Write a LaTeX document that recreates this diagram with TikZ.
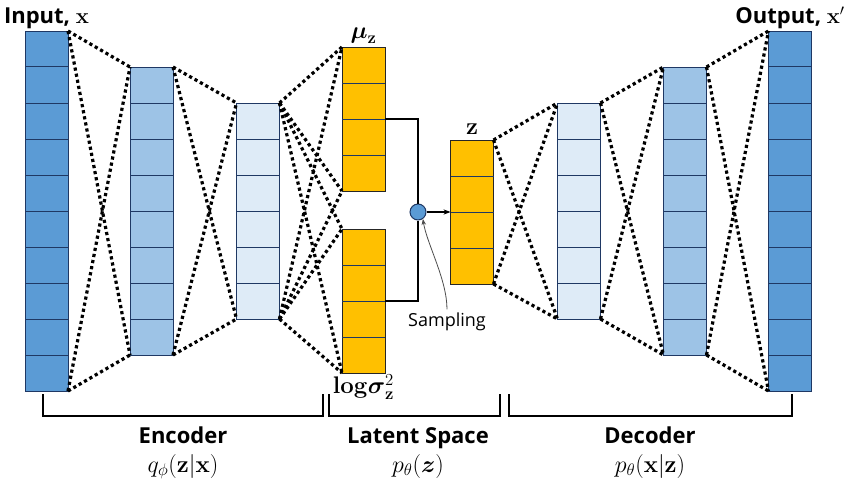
\documentclass[tikz,border=0pt]{standalone}
\usepackage{fix-cm}
\usepackage[no-math]{fontspec}
\setmainfont{Open Sans}
\usepackage{amsmath,amssymb}
\usetikzlibrary{arrows.meta, positioning, calc}
\definecolor{deepblue}{HTML}{5B9BD5}
\definecolor{midblue}{HTML}{9DC3E6}
\definecolor{paleblue}{HTML}{DEEBF7}
\definecolor{gold}{HTML}{FFC000}
\definecolor{navy}{HTML}{1F3864}

\begin{document}
\begin{tikzpicture}[
    x=1pt, y=-1pt,
    layer/.style={rectangle, draw=navy, fill=#1, line width=1pt,
                  inner sep=0pt, outer sep=0pt, minimum width=43pt},
    latent/.style={layer=gold, draw=black!85},
    link/.style={line width=3.2pt, dash pattern=on 3.2pt off 3pt},
    wire/.style={line width=1.6pt},
    title/.style={font=\fontsize{22}{26}\selectfont\bfseries, inner sep=0pt},
    formula/.style={font=\fontsize{24}{28}\selectfont, inner sep=0pt},
    brace/.style={line width=1.5pt}
]
\path[fill=white, use as bounding box] (0,0) rectangle (850,485);

% Layers
\node[layer=deepblue, minimum height=360pt] (in) at (46.5,211) {};
\node[layer=midblue, minimum height=288pt] (e1) at (151.5,211) {};
\node[layer=paleblue, minimum height=216pt] (e2) at (258,211) {};
\node[latent, minimum height=144pt] (mu) at (363.5,119) {};
\node[latent, minimum height=144pt] (ls) at (363.5,301) {};
\node[circle, draw=navy, fill=deepblue, line width=1pt, minimum size=16pt,
      inner sep=0pt] (s) at (418,212) {};
\node[latent, minimum height=144pt] (z) at (472,212) {};
\node[layer=paleblue, minimum height=216pt] (d1) at (579,211) {};
\node[layer=midblue, minimum height=288pt] (d2) at (685,211) {};
\node[layer=deepblue, minimum height=360pt] (out) at (790,211) {};

% Cells
\foreach \n/\k in {in/10,e1/8,e2/6,mu/4,ls/4,z/4,d1/6,d2/8,out/10}
  \foreach \i in {2,...,\k}
    \draw[line width=1pt, draw=navy]
      ($(\n.north west)!{(\i-1)/\k}!(\n.south west)$) --
      ($(\n.north east)!{(\i-1)/\k}!(\n.south east)$);

% Dotted links
\foreach \a/\b in {in/e1,e1/e2,z/d1,d1/d2,d2/out}
  \foreach \p in {north east,south east}
    \foreach \q in {north west,south west}
      \draw[link] (\a.\p) -- (\b.\q);
\foreach \p in {north east,south east}
  \foreach \b in {mu,ls}
    \foreach \q in {north west,south west}
      \draw[link] (e2.\p) -- (\b.\q);

% Sampling
\draw[wire] (mu.east) -| (s.north);
\draw[wire] (ls.east) -| (s.south);
\draw[wire, -{Stealth[length=7pt]}] (s.east) -- (z.west);
\node[font=\fontsize{18}{20}\selectfont] (samp) at (447,322) {Sampling};
\draw[black!70, line width=0.8pt, -{Stealth[length=6pt]}]
  (samp.north) .. controls +(0,-30) and +(4,25) .. (s.-55);

% Labels
\node[title, above=2pt of in] (inlbl) {Input, $\mathbf{x}$};
\node[title, above=2pt of out] (outlbl) {Output, $\mathbf{x}'$};
\node[formula, above=3pt of mu] (mulbl) {$\boldsymbol{\mu}_{\mathbf{z}}$};
\node[formula, above=5pt of z] (zlbl) {$\mathbf{z}$};
\node[formula, below=1pt of ls] (lslbl) {$\mathbf{log}\boldsymbol{\sigma}_{\mathbf{z}}^{2}$};

% Brackets
\draw[brace] (43,394) |- (323,416) -- (323,394);
\draw[brace] (329,394) |- (500,416) -- (500,394);
\draw[brace] (509,394) |- (792,416) -- (792,394);

\node[title, anchor=base] (enc) at (183,443) {Encoder};
\node[formula, anchor=base] (encp) at (183,472) {$q_{\phi}(\mathbf{z}|\mathbf{x})$};
\node[title, anchor=base] (lat) at (418,443) {Latent Space};
\node[formula, anchor=base] (latp) at (418,472) {$p_{\theta}(\boldsymbol{z})$};
\node[title, anchor=base] (dec) at (650,443) {Decoder};
\node[formula, anchor=base] (decp) at (650,472) {$p_{\theta}(\mathbf{x}|\mathbf{z})$};
\end{tikzpicture}
\end{document}
